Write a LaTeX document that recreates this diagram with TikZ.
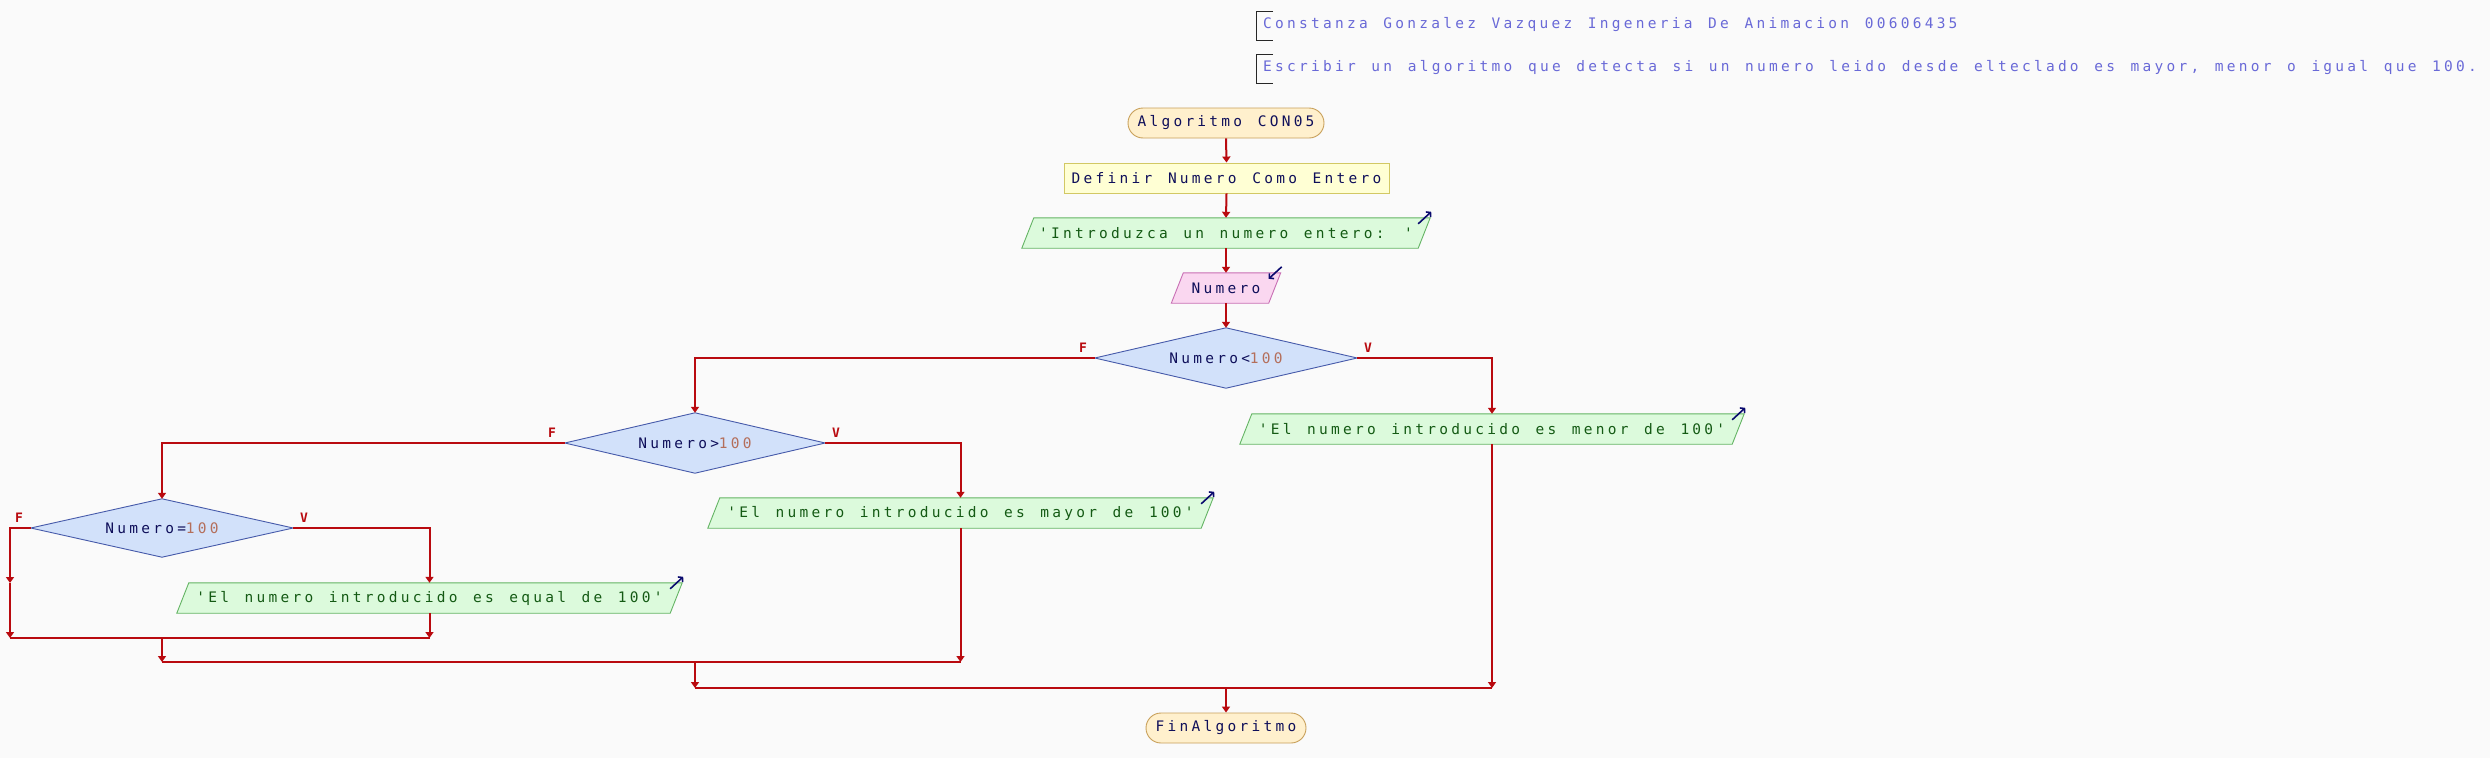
\documentclass[tikz,border=0pt]{standalone}
\usepackage{fontspec}
\usetikzlibrary{arrows.meta,backgrounds}
\newfontfamily\pfont[LetterSpace=22.5,WordSpace={1.3,0,0}]{DejaVu Sans Mono}
\definecolor{bgc}{RGB}{250,250,250}
\definecolor{linec}{RGB}{185,10,15}
\definecolor{termf}{RGB}{255,240,205}
\definecolor{termb}{RGB}{200,160,90}
\definecolor{procf}{RGB}{255,255,212}
\definecolor{procb}{RGB}{210,200,100}
\definecolor{outf}{RGB}{220,250,220}
\definecolor{outb}{RGB}{100,180,100}
\definecolor{outt}{RGB}{20,90,20}
\definecolor{inf}{RGB}{250,215,240}
\definecolor{inb}{RGB}{200,110,180}
\definecolor{diaf}{RGB}{210,225,250}
\definecolor{diab}{RGB}{70,90,170}
\definecolor{txt}{RGB}{15,15,90}
\definecolor{numc}{RGB}{180,110,90}
\definecolor{hdrc}{RGB}{105,105,215}
\definecolor{iconc}{RGB}{10,10,110}
\tikzset{
  term/.style={draw=termb, fill=termf, rounded corners=15pt, minimum height=30pt, inner sep=0pt, text=txt, line width=0.9pt},
  proc/.style={draw=procb, fill=procf, minimum height=30pt, inner sep=0pt, text=txt, line width=0.9pt},
  box/.style={minimum height=30pt, inner sep=0pt, text=txt},
  obox/.style={box, text=outt},
  oshape/.style={draw=outb, fill=outf, line width=0.9pt},
  ishape/.style={draw=inb, fill=inf, line width=0.9pt},
  dshape/.style={draw=diab, fill=diaf, line width=0.9pt},
  flow/.style={draw=linec, line width=2pt, -{Triangle[width=8pt,length=6pt]}},
  joinline/.style={draw=linec, line width=2.6pt},
  lbl/.style={text=linec, font=\pfont\fontsize{13}{15}\selectfont\bfseries, inner sep=0pt},
  hdr/.style={text=hdrc, inner sep=0pt, anchor=west},
  icon/.style={draw=iconc, line width=1.6pt, -{Straight Barb[length=3pt,width=7pt]}},
  brk/.style={draw=black!85, line width=0.9pt}
}
\newcommand\pgram[2]{\filldraw[#2] ([xshift=-6pt]#1.south west) -- ([xshift=6pt]#1.north west) -- ([xshift=6pt]#1.north east) -- ([xshift=-6pt]#1.south east) -- cycle;}
\newcommand\dgram[1]{\filldraw[dshape] (#1.north) -- (#1.east) -- (#1.south) -- (#1.west) -- cycle;}
\begin{document}
\begin{tikzpicture}[x=1pt,y=-1pt,font=\pfont\fontsize{14.5}{17}\selectfont]
\begin{scope}[on background layer]
\fill[bgc] (0,0) rectangle (2490,758);
\end{scope}
\useasboundingbox (0,0) rectangle (2490,758);

% header
\node[hdr] (h1) at (1263,25) {Constanza Gonzalez Vazquez Ingeneria De Animacion 00606435};
\node[hdr] (h2) at (1263,68) {Escribir un algoritmo que detecta si un numero leido desde elteclado es mayor, menor o igual que 100.};
\draw[brk] (1273,11) -- (1256,11) -- (1256,40) -- (1273,40);
\draw[brk] (1273,54) -- (1256,54) -- (1256,83) -- (1273,83);

% nodes
\node[term, minimum width=196pt] (start) at (1226,123) {Algoritmo CON05};
\node[proc, minimum width=325pt] (def) at (1226.5,178) {Definir Numero Como Entero};
\node[obox, minimum width=396pt] (out1) at (1226,233) {'Introduzca un numero entero: '};
\node[box, minimum width=97pt] (in1) at (1226,288) {Numero};
\node[box, minimum width=262pt, minimum height=60pt] (d1) at (1226,358) {Numero<\textcolor{numc}{100}};
\node[obox, minimum width=492pt] (out3) at (1492,429) {'El numero introducido es menor de 100'};
\node[box, minimum width=260pt, minimum height=60pt] (d2) at (695,443) {Numero>\textcolor{numc}{100}};
\node[obox, minimum width=493pt] (out2) at (960.5,513) {'El numero introducido es mayor de 100'};
\node[box, minimum width=262pt, minimum height=58pt] (d3) at (162,528) {Numero=\textcolor{numc}{100}};
\node[obox, minimum width=493pt] (out4) at (429.5,598) {'El numero introducido es equal de 100'};
\node[term, minimum width=160pt] (end) at (1226,728) {FinAlgoritmo};

\begin{scope}[on background layer]
\pgram{out1}{oshape}
\pgram{in1}{ishape}
\pgram{out2}{oshape}
\pgram{out3}{oshape}
\pgram{out4}{oshape}
\dgram{d1}
\dgram{d2}
\dgram{d3}
\end{scope}

% icons
\draw[icon] ([xshift=-6pt,yshift=-6pt]out1.north east) -- ([xshift=7pt,yshift=6pt]out1.north east);
\draw[icon] ([xshift=-6pt,yshift=-6pt]out2.north east) -- ([xshift=7pt,yshift=6pt]out2.north east);
\draw[icon] ([xshift=-6pt,yshift=-6pt]out3.north east) -- ([xshift=7pt,yshift=6pt]out3.north east);
\draw[icon] ([xshift=-6pt,yshift=-6pt]out4.north east) -- ([xshift=7pt,yshift=6pt]out4.north east);
\draw[icon] ([xshift=7pt,yshift=6pt]in1.north east) -- ([xshift=-6pt,yshift=-6pt]in1.north east);

% labels
\node[lbl] (f1) at (1083,348) {F};
\node[lbl] (v1) at (1368,348) {V};
\node[lbl] (f2) at (552,433) {F};
\node[lbl] (v2) at (836,433) {V};
\node[lbl] (f3l) at (19,518) {F};
\node[lbl] (v3) at (304,518) {V};

% coordinates
\coordinate (f3) at (10,583);
\coordinate (j1l) at (10,638);
\coordinate (j1r) at (429.5,638);
\coordinate (j1m) at (162,638);
\coordinate (j2l) at (162,662);
\coordinate (j2r) at (960.5,662);
\coordinate (j2m) at (695,662);
\coordinate (j3l) at (695,688);
\coordinate (j3r) at (1492,688);
\coordinate (j3m) at (1226,688);

% connectors
\draw[flow] (start.south) -- (def.north);
\draw[flow] (def.south) -- (out1.north);
\draw[flow] (out1.south) -- (in1.north);
\draw[flow] (in1.south) -- (d1.north);
\draw[flow] (d1.west) -| (d2.north);
\draw[flow] (d1.east) -| (out3.north);
\draw[flow] (d2.west) -| (d3.north);
\draw[flow] (d2.east) -| (out2.north);
\draw[flow] (d3.west) -| (f3);
\draw[flow] (f3) -- (j1l);
\draw[flow] (d3.east) -| (out4.north);
\draw[flow] (out4.south) -- (j1r);
\draw[joinline] (j1l) -- (j1r);
\draw[flow] (j1m) -- (j2l);
\draw[flow] (out2.south) -- (j2r);
\draw[joinline] (j2l) -- (j2r);
\draw[flow] (j2m) -- (j3l);
\draw[flow] (out3.south) -- (j3r);
\draw[joinline] (j3l) -- (j3r);
\draw[flow] (j3m) -- (end.north);
\end{tikzpicture}
\end{document}
